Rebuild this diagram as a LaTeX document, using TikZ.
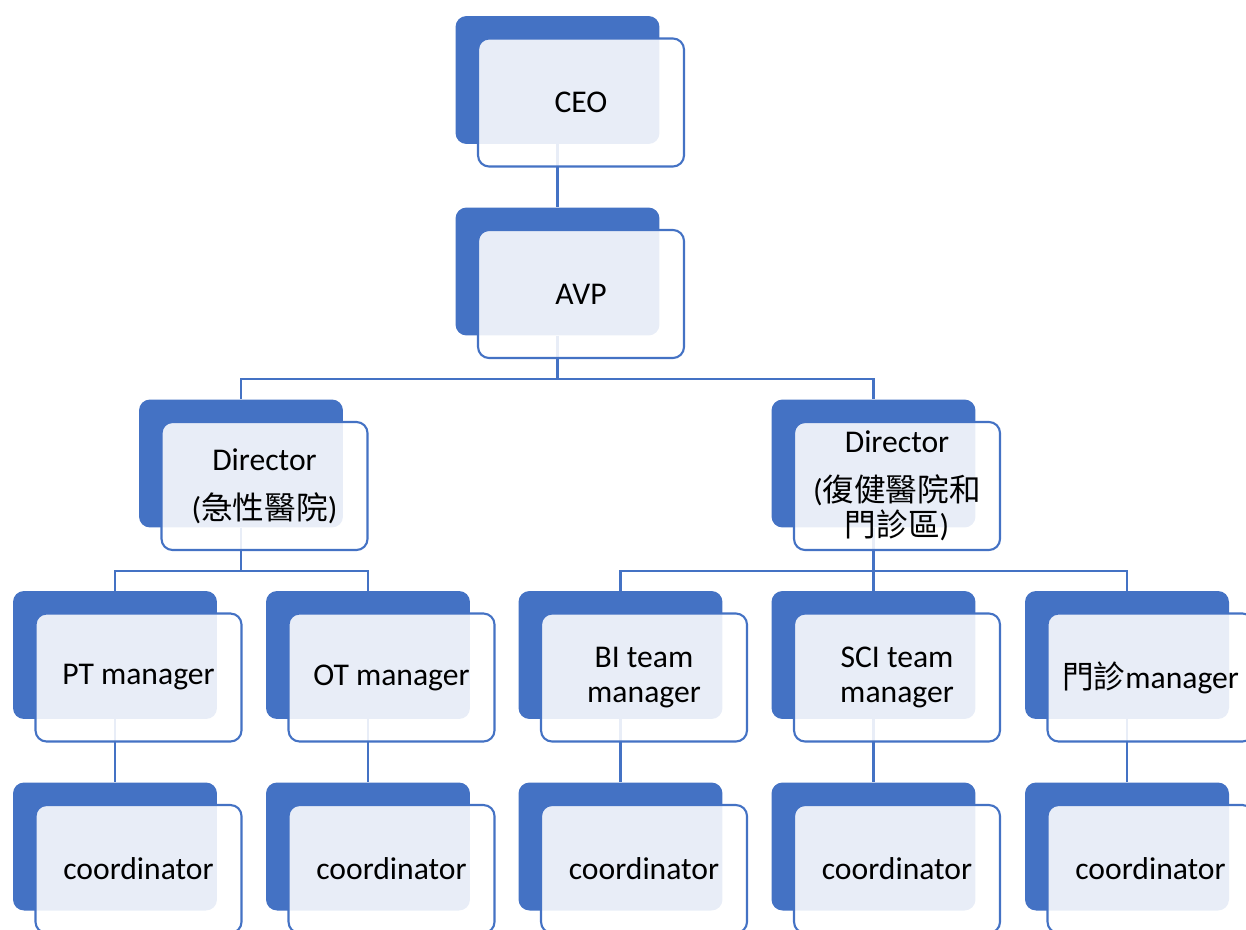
\documentclass[tikz,border=0pt]{standalone}
\usepackage{fontspec}
\setmainfont{Carlito}
\newfontfamily\cjk{Noto Sans CJK TC}
\usepackage{xcolor}
\definecolor{orgblue}{HTML}{4472C4}

\tikzset{
    backbox/.style={rectangle, rounded corners=0.22cm, fill=orgblue,
        minimum width=4.08cm, minimum height=2.56cm, inner sep=0pt},
    frontbox/.style={rectangle, rounded corners=0.22cm, draw=orgblue, line width=1.2pt,
        fill=white, fill opacity=0.88, text opacity=1, align=center,
        minimum width=4.12cm, minimum height=2.56cm, inner sep=0pt,
        font=\fontsize{18}{20}\selectfont},
    link/.style={draw=orgblue, line width=1.2pt}
}

\begin{document}
\begin{tikzpicture}[x=0.02cm, y=-0.02cm]
            \useasboundingbox (0,0) rectangle (1246,929);
            % back boxes
            \node[backbox] (ceoB) at (557.5,80) {};
            \node[backbox] (avpB) at (557.5,271.5) {};
            \node[backbox] (dirlB) at (241,463.5) {};
            \node[backbox] (dirrB) at (873.5,463.5) {};
            \foreach \Name/\X in {pt/115, ot/368, bi/620.5, sci/873.5, opd/1127}{
                    \node[backbox] (\Name B) at (\X,655) {};
                    \node[backbox] (\Name cB) at (\X,846.5) {};
                }
            % connectors
            \draw[link] (ceoB.south) -- (avpB.north);
            \draw[link] (avpB.south) -- ++(0,43) -| (dirlB.north);
            \draw[link] (avpB.south) -- ++(0,43) -| (dirrB.north);
            \draw[link] (dirlB.south) -- ++(0,43) -| (ptB.north);
            \draw[link] (dirlB.south) -- ++(0,43) -| (otB.north);
            \draw[link] (dirrB.south) -- ++(0,43) -| (biB.north);
            \draw[link] (dirrB.south) -- ++(0,43) -| (sciB.north);
            \draw[link] (dirrB.south) -- ++(0,43) -| (opdB.north);
            \foreach \Name in {pt, ot, bi, sci, opd}{
                    \draw[link] (\Name B.south) -- (\Name cB.north);
                }
            % front boxes
            \node[frontbox] (ceo) at ([shift={(23.5,22.5)}]ceoB) {CEO};
            \node[frontbox] (avp) at ([shift={(23.5,22.5)}]avpB) {AVP};
            \node[frontbox] (dirl) at ([shift={(23.5,22.5)}]dirlB) {Director\\[0.28cm]({\cjk 急性醫院})};
            \node[frontbox] (dirr) at ([shift={(23.5,22.5)}]dirrB) {Director\\[0.28cm]({\cjk 復健醫院和}\\{\cjk 門診區})};
            \foreach \Name/\Text in {pt/PT manager, ot/OT manager, bi/BI team\\manager,
                    sci/SCI team\\manager, opd/{{\cjk 門診}manager}}{
                    \node[frontbox] (\Name) at ([shift={(23.5,22.5)}]\Name B) {\Text};
                    \node[frontbox] (\Name c) at ([shift={(23.5,22.5)}]\Name cB) {coordinator};
                }
        \end{tikzpicture}
\end{document}
